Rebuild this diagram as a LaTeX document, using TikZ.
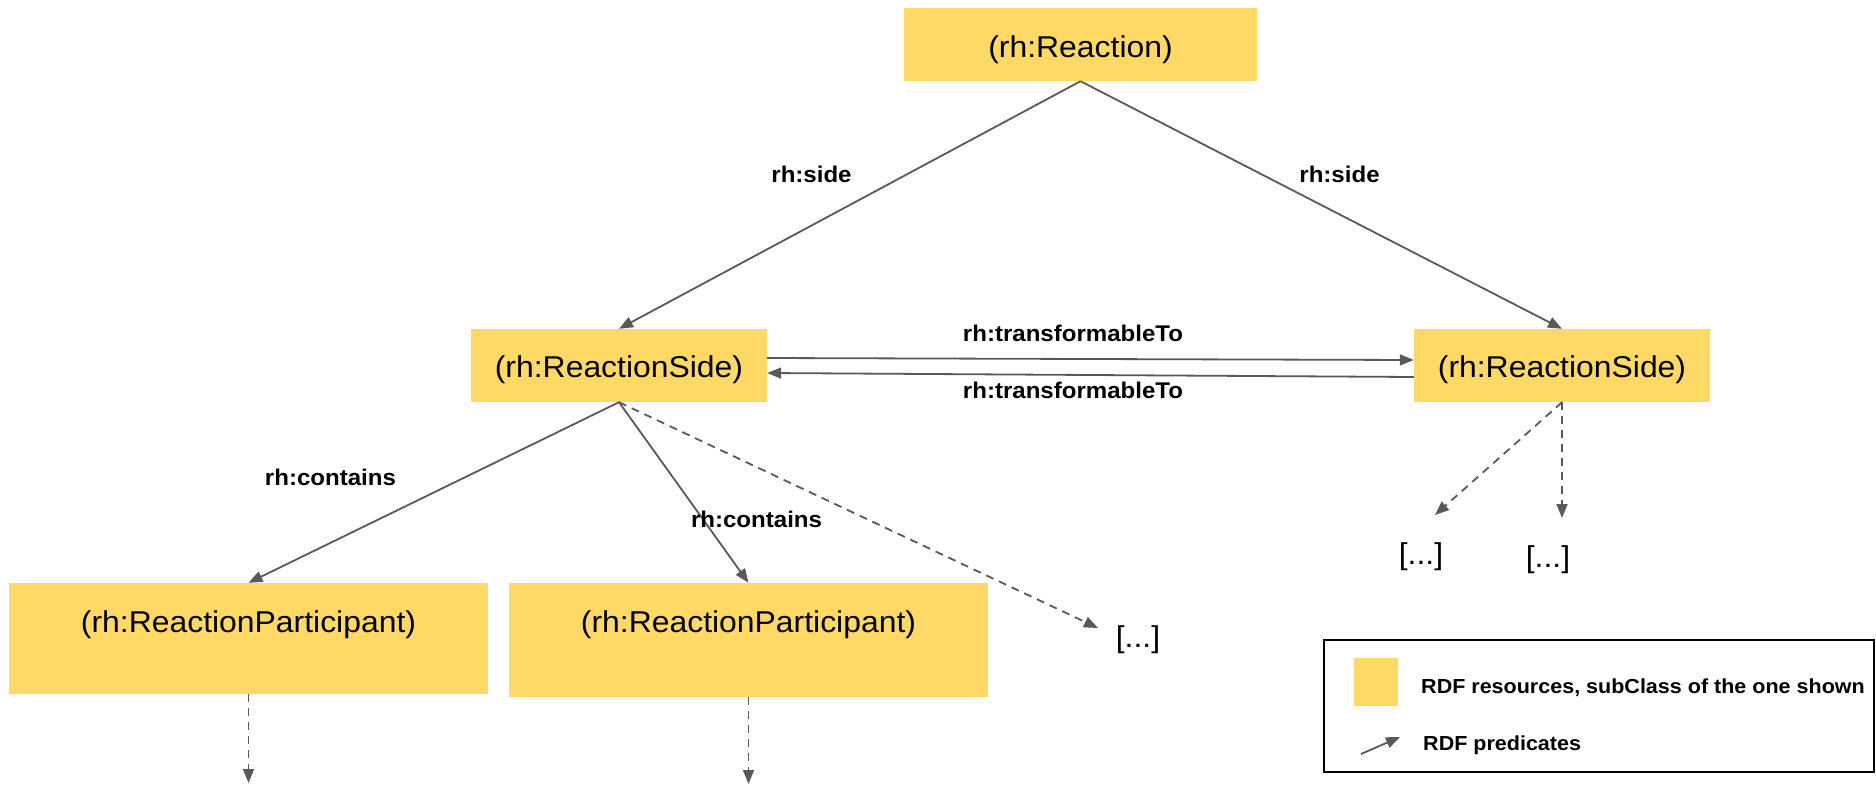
\documentclass[tikz,border=0pt]{standalone}
\usepackage{fontspec}
\setmainfont{Liberation Sans}[FakeStretch=1.06]
\usetikzlibrary{arrows.meta}
\definecolor{resfill}{HTML}{FFD966}
\definecolor{edgegray}{HTML}{595959}

\begin{document}
\begin{tikzpicture}[x=1pt,y=-1pt,
  resbox/.style={fill=resfill, draw=none, inner sep=0pt, anchor=center},
  restext/.style={font=\fontsize{30.1}{36}\selectfont, anchor=base, inner sep=0pt},
  predlabel/.style={font=\bfseries\fontsize{22.7}{27}\selectfont, anchor=base, inner sep=0pt},
  pred/.style={draw=edgegray, line width=1.8pt, -{Triangle[length=14pt,width=11pt]}},
  predopen/.style={pred, dash pattern=on 8pt off 6pt},
  moretext/.style={font=\fontsize{30.1}{36}\selectfont, inner sep=0pt},
  legendtext/.style={font=\bfseries\fontsize{20.3}{24}\selectfont, anchor=base west, inner sep=0pt}]

\useasboundingbox (0,0) rectangle (1876,787);

% resources
\node[resbox, minimum width=353pt, minimum height=73pt] (rxn) at (1080.5,44.5) {};
\node[restext] (rxnT) at (1080.5,57) {(rh:Reaction)};

\node[resbox, minimum width=296pt, minimum height=73pt] (sideL) at (619,365.5) {};
\node[restext] (sideLT) at (619,377) {(rh:ReactionSide)};

\node[resbox, minimum width=296pt, minimum height=73pt] (sideR) at (1562,365.5) {};
\node[restext] (sideRT) at (1562,377) {(rh:ReactionSide)};

\node[resbox, minimum width=479pt, minimum height=111pt] (partA) at (248.5,638.5) {};
\node[restext] (partAT) at (248.5,632) {(rh:ReactionParticipant)};

\node[resbox, minimum width=479pt, minimum height=114pt] (partB) at (748.5,640) {};
\node[restext] (partBT) at (748.5,632) {(rh:ReactionParticipant)};

% further, elided objects
\node[moretext] (moreA) at (1138,640) {[...]};
\node[moretext] (moreB) at (1421,557) {[...]};
\node[moretext] (moreC) at (1548,560) {[...]};

\coordinate (moreAend) at (1098,628);
\coordinate (moreBend) at (1435,515);
\coordinate (moreCend) at (1562,518);
\coordinate (partAend) at (248.5,783);
\coordinate (partBend) at (748.5,784);

% predicates
\draw[pred] (rxn.south) -- (sideL.north);
\draw[pred] (rxn.south) -- (sideR.north);
\draw[pred] ([yshift=7.5pt]sideL.east) -- ([yshift=5.5pt]sideR.west);
\draw[pred] ([yshift=-11.5pt]sideR.west) -- ([yshift=-7.5pt]sideL.east);
\draw[pred] (sideL.south) -- (partA.north);
\draw[pred] (sideL.south) -- (partB.north);
\draw[predopen] (sideL.south) -- (moreAend);
\draw[predopen] (sideR.south) -- (moreBend);
\draw[predopen] (sideR.south) -- (moreCend);
\draw[predopen] (partA.south) -- (partAend);
\draw[predopen] (partB.south) -- (partBend);

% predicate labels
\node[predlabel] (lblSideL) at (811.5,182) {rh:side};
\node[predlabel] (lblSideR) at (1339.5,182) {rh:side};
\node[predlabel] (lblTrA) at (1073,341) {rh:transformableTo};
\node[predlabel] (lblTrB) at (1073,398) {rh:transformableTo};
\node[predlabel] (lblConA) at (330.5,485) {rh:contains};
\node[predlabel] (lblConB) at (756.5,527) {rh:contains};

% legend
\node[draw=black, line width=1.5pt, minimum width=550pt, minimum height=132pt, inner sep=0pt] (legend) at (1599,706) {};
\node[resbox, minimum width=44pt, minimum height=48pt] (legSwatch) at (1376,682) {};
\node[legendtext] (legRes) at (1421,693) {RDF resources, subClass of the one shown};
\coordinate (legArrA) at (1361,754);
\coordinate (legArrB) at (1400,737);
\draw[pred] (legArrA) -- (legArrB);
\node[legendtext] (legPred) at (1423,750) {RDF predicates};
\end{tikzpicture}
\end{document}
